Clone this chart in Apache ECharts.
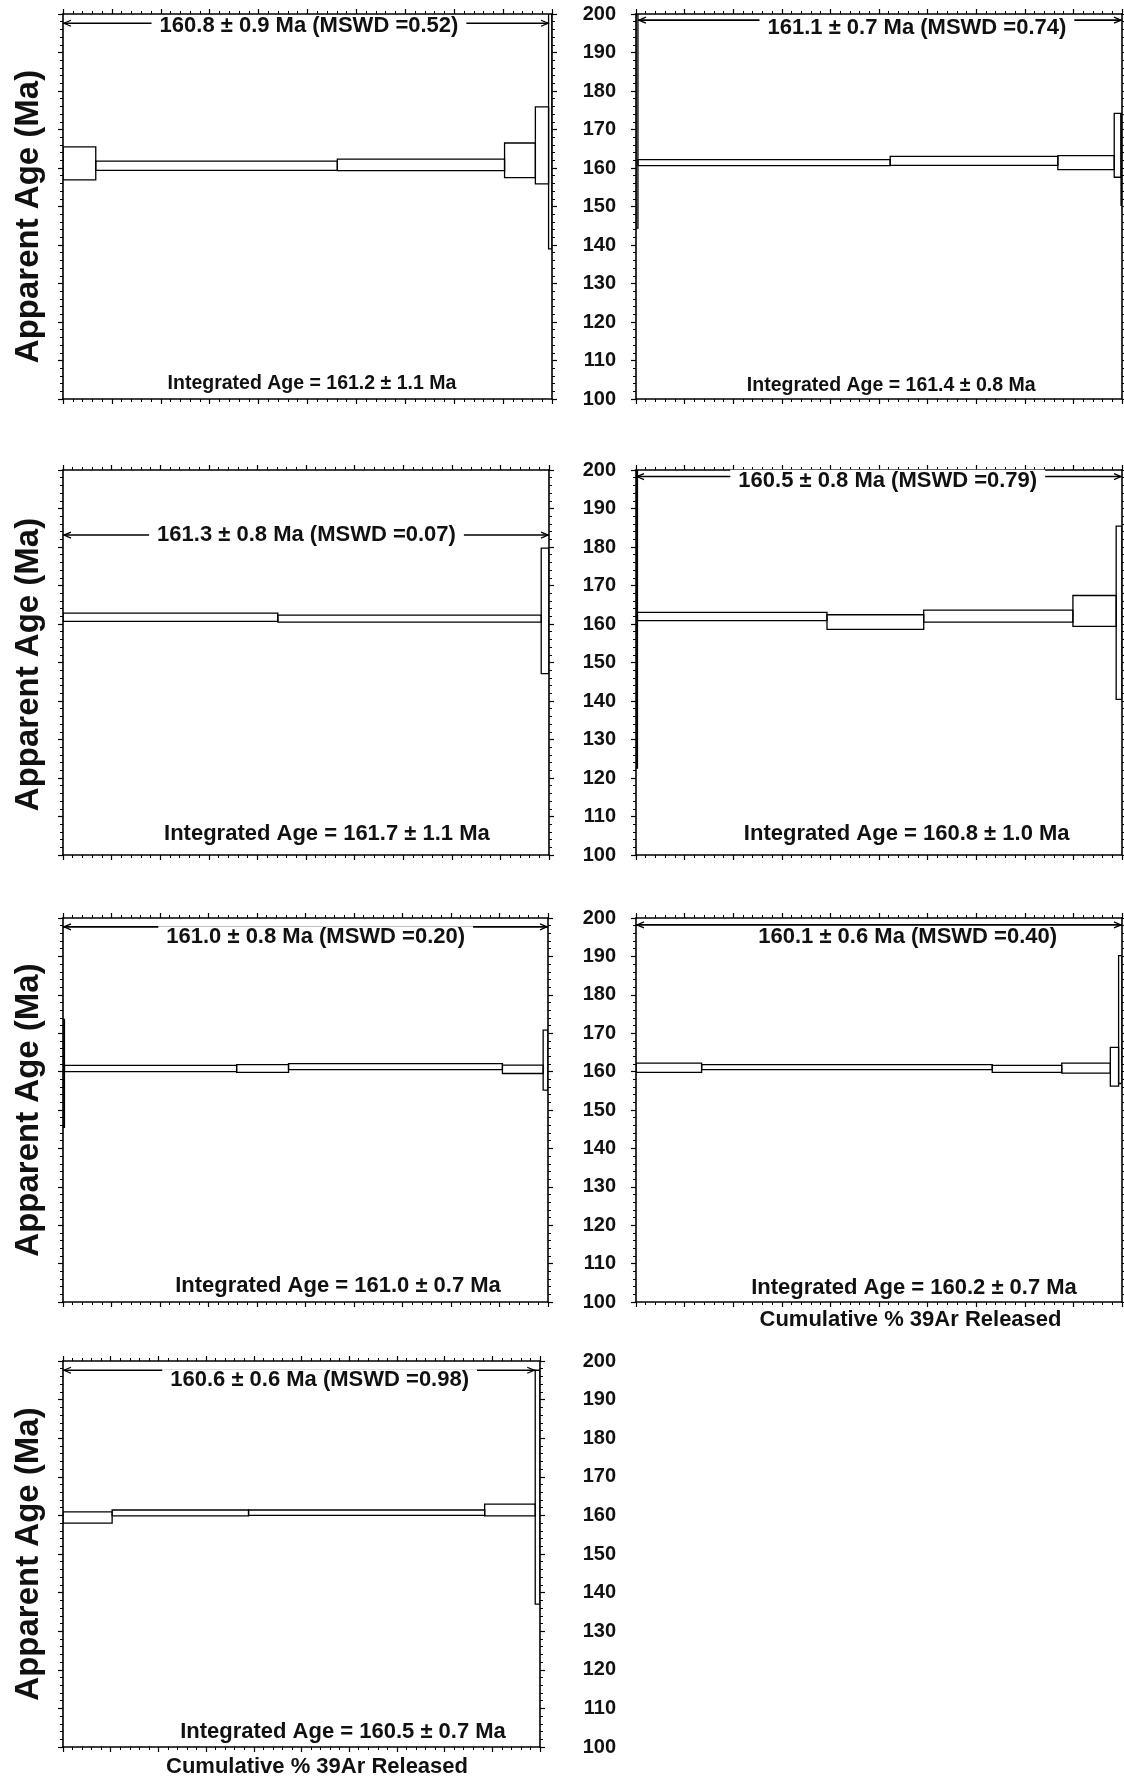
<!DOCTYPE html>
<html>
<head>
<meta charset="utf-8">
<script src="https://cdn.jsdelivr.net/npm/echarts@6/dist/echarts.min.js"></script>
<style>
html, body { margin: 0; padding: 0; background: #fff; }
#app { width: 1124px; height: 1779px; }
</style>
</head>
<body>
<div id="app"></div>
<script>
var ageMin = 100, ageMax = 200, ageStep = 10;
var cumMin = 0, cumMax = 100, cumStep = 10;

// step edges (cumulative % 39Ar), step ages and 2s errors (Ma)
var cum1 = [0, 6.7, 56.1, 90.3, 96.6, 99.3, 100];
var age1 = [161.2, 160.6, 160.8, 162.0, 165.9, 174.5];
var err1 = [4.3, 1.2, 1.5, 4.5, 10.0, 35.5];

var cum2 = [0, 0.4, 52.3, 86.8, 98.4, 99.8, 100];
var age2 = [174.7, 161.4, 161.85, 161.4, 165.9, 162.2];
var err2 = [30.3, 0.8, 1.15, 1.8, 8.3, 11.9];

var cum3 = [0, 44.2, 98.4, 100];
var age3 = [161.75, 161.4, 163.4];
var err3 = [1.05, 0.9, 16.3];

var cum4 = [0, 0.3, 39.3, 59.2, 89.9, 98.8, 100];
var age4 = [166.3, 161.95, 160.5, 162.05, 163.4, 162.9];
var err4 = [43.7, 1.05, 1.9, 1.55, 4.0, 22.5];

var cum5 = [0, 0.3, 35.8, 46.5, 90.6, 99.0, 100];
var age5 = [159.55, 160.8, 160.8, 161.3, 160.6, 163.0];
var err5 = [14.05, 0.8, 1.0, 0.8, 1.1, 7.8];

var cum6 = [0, 13.5, 73.3, 87.6, 97.6, 99.3, 100];
var age6 = [161.0, 161.15, 160.7, 160.9, 161.25, 173.55];
var err6 = [1.2, 0.65, 0.9, 1.3, 5.05, 16.65];

var cum7 = [0, 10.3, 38.9, 88.4, 99.0, 100];
var age7 = [159.45, 160.65, 160.7, 161.4, 167.3];
var err7 = [1.45, 0.75, 0.7, 1.5, 30.3];

// plateau arrows
var plateauFrom = [0, 0.4, 0, 0, 0, 0, 0];
var plateauTo = [99.4, 100, 100, 100, 100, 100, 99.0];
var plateauAge = [197.6, 198.4, 183.1, 198.3, 197.7, 198.2, 197.6];

var plateauText = [
  '160.8 ± 0.9 Ma (MSWD =0.52)',
  '161.1 ± 0.7 Ma (MSWD =0.74)',
  '161.3 ± 0.8 Ma (MSWD =0.07)',
  '160.5 ± 0.8 Ma (MSWD =0.79)',
  '161.0 ± 0.8 Ma (MSWD =0.20)',
  '160.1 ± 0.6 Ma (MSWD =0.40)',
  '160.6 ± 0.6 Ma (MSWD =0.98)'
];
var integratedText = [
  'Integrated Age = 161.2 ± 1.1 Ma',
  'Integrated Age = 161.4 ± 0.8 Ma',
  'Integrated Age = 161.7 ± 1.1 Ma',
  'Integrated Age = 160.8 ± 1.0 Ma',
  'Integrated Age = 161.0 ± 0.7 Ma',
  'Integrated Age = 160.2 ± 0.7 Ma',
  'Integrated Age = 160.5 ± 0.7 Ma'
];

var yTitle = 'Apparent Age (Ma)';
var xTitle = 'Cumulative % 39Ar Released';

var FONT = '"Liberation Sans", Arial, sans-serif';

// layout of each panel (pixels) and where the notes sit (data units)
var panels = [
  {cum: cum1, age: age1, err: err1, grid: {left: 63, top: 14, width: 489, height: 385}, left: true, yPad: 20, pAt: [50.3, 196.8], iAt: [50.9, 104.1], iSize: 19.5},
  {cum: cum2, age: age2, err: err2, grid: {left: 636, top: 14, width: 486, height: 385}, left: false, pAt: [57.8, 196.4], iAt: [52.5, 103.4], iSize: 19.5},
  {cum: cum3, age: age3, err: err3, grid: {left: 63, top: 470, width: 486, height: 385}, left: true, yPad: 4, pAt: [50.1, 183.1], iAt: [54.3, 105.6], iSize: 22},
  {cum: cum4, age: age4, err: err4, grid: {left: 636, top: 470, width: 486, height: 385}, left: false, pAt: [51.8, 197.2], iAt: [55.7, 105.4], iSize: 22},
  {cum: cum5, age: age5, err: err5, grid: {left: 63, top: 918, width: 485, height: 384}, left: true, yPad: 0, pAt: [52.1, 195.0], iAt: [56.7, 104.1], iSize: 22},
  {cum: cum6, age: age6, err: err6, grid: {left: 636, top: 918, width: 486, height: 384}, left: false, pAt: [55.9, 195.0], iAt: [57.2, 103.6], iSize: 22, xName: 7, xShift: 63},
  {cum: cum7, age: age7, err: err7, grid: {left: 63, top: 1361, width: 477, height: 386}, left: true, yPad: 0, pAt: [53.8, 195.0], iAt: [58.7, 103.8], iSize: 22, xName: 9, xShift: 31}
];

var lineCol = '#000';
var tickStyle = {color: lineCol, width: 1.2};

function xAxisOf(i, pos, p) {
  var ax = {
    gridIndex: i, type: 'value', position: pos,
    min: cumMin, max: cumMax, interval: cumStep,
    axisLine: {onZero: false, lineStyle: {color: lineCol, width: 1.6}},
    axisTick: {length: 5, lineStyle: tickStyle},
    minorTick: {show: true, splitNumber: 5, length: 3, lineStyle: {color: lineCol, width: 1}},
    axisLabel: {show: false},
    splitLine: {show: false}
  };
  if (pos === 'bottom' && p.xName) {
    ax.name = xTitle;
    ax.nameLocation = 'middle';
    ax.nameGap = p.xName;
    ax.nameTextStyle = {fontFamily: FONT, fontWeight: 'bold', fontSize: 22, color: '#111', padding: [0, 0, 0, p.xShift]};
  }
  return ax;
}

function yAxisOf(i, pos, p) {
  var ax = {
    gridIndex: i, type: 'value', position: pos,
    min: ageMin, max: ageMax, interval: ageStep,
    axisLine: {onZero: false, lineStyle: {color: lineCol, width: 1.6}},
    axisTick: {length: 5, lineStyle: tickStyle},
    minorTick: {show: true, splitNumber: 5, length: 3, lineStyle: {color: lineCol, width: 1}},
    axisLabel: {show: pos === 'left' && !p.left, margin: 20, fontFamily: FONT, fontWeight: 'bold', fontSize: 20, color: '#111'},
    splitLine: {show: false}
  };
  if (pos === 'left' && p.left) {
    ax.name = yTitle;
    ax.nameLocation = 'middle';
    ax.nameRotate = 90;
    ax.nameGap = 18;
    ax.nameTextStyle = {fontFamily: FONT, fontWeight: 'bold', fontSize: 33, color: '#111', padding: [0, p.yPad, 0, 0]};
  }
  return ax;
}

function boxItem(params, api) {
  var a = api.coord([api.value(0), api.value(2) + api.value(3)]);
  var b = api.coord([api.value(1), api.value(2) - api.value(3)]);
  return {
    type: 'rect',
    shape: {x: a[0], y: a[1], width: b[0] - a[0], height: b[1] - a[1]},
    style: {fill: 'rgba(0,0,0,0)', stroke: lineCol, lineWidth: 1.3}
  };
}

function arrowItem(params, api) {
  var y = api.value(2);
  var a = api.coord([api.value(0), y]);
  var b = api.coord([api.value(1), y]);
  var h = 8, w = 3;
  var head = {stroke: lineCol, fill: null, lineWidth: 1.3};
  return {
    type: 'group',
    children: [
      {type: 'line', shape: {x1: a[0], y1: a[1], x2: b[0], y2: b[1]}, style: {stroke: lineCol, lineWidth: 1.6}},
      {type: 'polyline', shape: {points: [[a[0] + h, a[1] - w], [a[0] + 1, a[1]], [a[0] + h, a[1] + w]]}, style: head},
      {type: 'polyline', shape: {points: [[b[0] - h, b[1] - w], [b[0] - 1, b[1]], [b[0] - h, b[1] + w]]}, style: head}
    ]
  };
}

function notesSeries(i, p) {
  var texts = [plateauText[i], integratedText[i]];
  var sizes = [22, p.iSize];
  var bgs = ['#fff', null];
  return {
    type: 'custom', xAxisIndex: 2 * i, yAxisIndex: 2 * i, z: 5, clip: false, silent: true,
    data: [p.pAt, p.iAt],
    renderItem: function (params, api) {
      var k = params.dataIndex;
      var pt = api.coord([api.value(0), api.value(1)]);
      return {
        type: 'text', x: pt[0], y: pt[1],
        style: {
          text: texts[k], fill: '#111',
          font: 'bold ' + sizes[k] + 'px ' + FONT,
          align: 'center', verticalAlign: 'middle',
          backgroundColor: bgs[k], padding: [0, 8]
        }
      };
    }
  };
}

var grid = [], xAxis = [], yAxis = [], series = [];

panels.forEach(function (p, i) {
  var g = p.grid;
  grid.push({left: g.left, top: g.top, width: g.width, height: g.height, outerBoundsMode: 'none'});
  xAxis.push(xAxisOf(i, 'bottom', p));
  xAxis.push(xAxisOf(i, 'top', p));
  yAxis.push(yAxisOf(i, 'left', p));
  yAxis.push(yAxisOf(i, 'right', p));

  var steps = [];
  for (var s = 0; s < p.age.length; s++) {
    steps.push([p.cum[s], p.cum[s + 1], p.age[s], p.err[s]]);
  }
  series.push({
    type: 'custom', xAxisIndex: 2 * i, yAxisIndex: 2 * i, z: 2, clip: true, silent: true,
    data: steps, renderItem: boxItem
  });
  series.push({
    type: 'custom', xAxisIndex: 2 * i, yAxisIndex: 2 * i, z: 3, clip: false, silent: true,
    data: [[plateauFrom[i], plateauTo[i], plateauAge[i]]], renderItem: arrowItem
  });
  series.push(notesSeries(i, p));
});

// bare age scale at the bottom right (its panel is not shown)
var n = panels.length;
grid.push({left: 636, top: 1361, width: 486, height: 386, outerBoundsMode: 'none'});
xAxis.push({gridIndex: n, type: 'value', min: cumMin, max: cumMax, show: false});
yAxis.push({
  gridIndex: n, type: 'value', min: ageMin, max: ageMax, interval: ageStep,
  axisLine: {show: false}, axisTick: {show: false}, splitLine: {show: false},
  axisLabel: {margin: 20, fontFamily: FONT, fontWeight: 'bold', fontSize: 20, color: '#111'}
});

var chart = echarts.init(document.getElementById('app'), null, {renderer: 'canvas'});
chart.setOption({
  animation: false,
  backgroundColor: '#fff',
  grid: grid,
  xAxis: xAxis,
  yAxis: yAxis,
  series: series
});
</script>
</body>
</html>
